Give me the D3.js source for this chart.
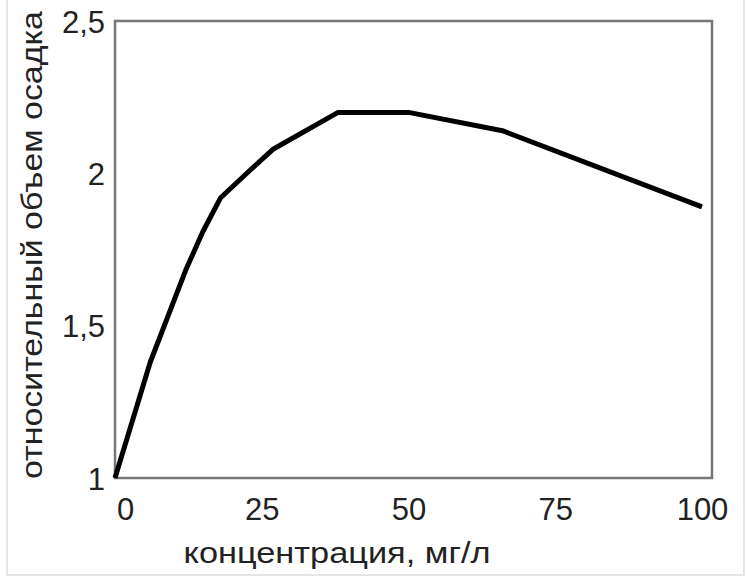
<!DOCTYPE html>
<html>
<head>
<meta charset="utf-8">
<script src="https://cdn.jsdelivr.net/npm/d3@7"></script>
<style>
body{margin:0;background:#fff;}
text{font-family:"Liberation Sans",Arial,sans-serif;fill:#222;}
</style>
</head>
<body>
<div id="chart-area"></div>
<script>
// concentration, mg/l  vs  relative sediment volume
let conc=[0,6,12,15,18,23,27,38,50,66,100];
let volume=[1,1.38,1.68,1.81,1.92,2.01,2.08,2.2,2.2,2.14,1.89];
let xTicks=[0,25,50,75,100];
let yTicks=[1,1.5,2,2.5];
let xTitle="концентрация, мг/л";
let yTitle="относительный  объем осадка";

let W=746,H=577;
let margin={top:21,right:34,bottom:99,left:115};
let width=W-margin.left-margin.right;
let height=H-margin.top-margin.bottom;

let svg=d3.select("#chart-area").append("svg")
	.attr("width",W)
	.attr("height",H);

// faint outer border of the picture
svg.append("path")
	.attr("d","M7,0V575H744V0")
	.attr("fill","none")
	.attr("stroke","#ddd")
	.attr("stroke-width",1.5);

let g=svg.append("g")
	.attr("transform","translate("+margin.left+","+margin.top+")");

//---------SCALES--------------
let x=d3.scaleLinear().domain([0,100]).range([0,587]);
let y=d3.scaleLinear().domain([1,2.5]).range([height,0]);

//-------AXES------------------
let xAxis=d3.axisBottom(x).tickValues(xTicks).tickSize(0).tickPadding(20);
let yAxis=d3.axisLeft(y).tickValues(yTicks).tickSize(0).tickPadding(10)
	.tickFormat(d=>String(d).replace(".",","));

let xg=g.append("g").attr("transform","translate(0,"+height+")").call(xAxis);
let yg=g.append("g").call(yAxis);
[xg,yg].forEach(a=>{
	a.select(".domain").remove();
	a.selectAll("text").attr("font-size","31px").attr("fill","#222")
		.style("font-family","Liberation Sans, Arial, sans-serif");
});
yg.selectAll("text").attr("dy","0.36em");
xg.selectAll("text").filter(d=>d===0).attr("dx","10");

// frame
g.append("rect")
	.attr("width",width)
	.attr("height",height)
	.attr("fill","none")
	.attr("stroke","#777")
	.attr("stroke-width",2.5);

//------LINE-------------------
let line=d3.line().x(d=>x(d[0])).y(d=>y(d[1]));
g.append("path")
	.datum(conc.map((c,i)=>[c,volume[i]]))
	.attr("d",line)
	.attr("fill","none")
	.attr("stroke","#000")
	.attr("stroke-width",5)
	.attr("stroke-linejoin","round");

//------LABELS----------------
svg.append("text")
	.attr("x",337)
	.attr("y",563)
	.attr("text-anchor","middle")
	.attr("font-size","30px")
	.attr("textLength",307)
	.attr("lengthAdjust","spacingAndGlyphs")
	.text(xTitle);

svg.append("text")
	.attr("transform","translate(42,245) rotate(-90)")
	.attr("text-anchor","middle")
	.attr("font-size","30px")
	.attr("textLength",468)
	.attr("lengthAdjust","spacingAndGlyphs")
	.text(yTitle);
</script>
</body>
</html>
